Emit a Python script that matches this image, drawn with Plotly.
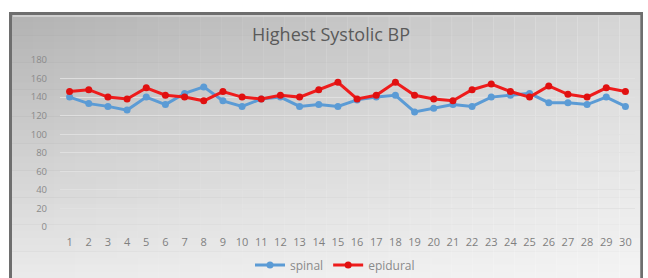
import plotly.graph_objects as go

patients = list(range(1, 31))
spinal = [140, 133, 130, 126, 140, 132, 144, 151, 136, 130,
          138, 140, 130, 132, 130, 137, 140, 142, 124, 128,
          132, 130, 140, 142, 144, 134, 134, 132, 140, 130]
epidural = [146, 148, 140, 138, 150, 142, 140, 136, 146, 140,
            138, 142, 140, 148, 156, 138, 142, 156, 142, 138,
            136, 148, 154, 146, 140, 152, 143, 140, 150, 146]
y_ticks = list(range(0, 181, 20))

W, H = 648, 278
ML, MR, MT, MB = 60, 13, 60, 51
PW, PH = W - ML - MR, H - MT - MB


def px(x):
    return (x - ML) / PW


def py(y):
    return 1 - (y - MT) / PH


fig = go.Figure()
fig.add_trace(go.Scatter(x=patients, y=spinal, name="spinal", mode="lines+markers",
                         line=dict(color="#5b9bd5", width=3),
                         marker=dict(color="#5b9bd5", size=7)))
fig.add_trace(go.Scatter(x=patients, y=epidural, name="epidural", mode="lines+markers",
                         line=dict(color="#ee1c1c", width=3),
                         marker=dict(color="#e01010", size=7)))

shapes = []
# outer frame
shapes.append(dict(type="rect", xref="paper", yref="paper", layer="below",
                   x0=px(9), x1=px(643), y0=py(285), y1=py(12),
                   fillcolor="#6e6e6e", line=dict(width=0)))
# vertical gradient bands
x0, x1, yt, yb = 12, 640, 15, 285
n = 40
top = (180, 180, 180)
bot = (236, 236, 236)
for i in range(n):
    t = i / (n - 1)
    c = tuple(int(top[k] + (bot[k] - top[k]) * t) for k in range(3))
    ya = yt + (yb - yt) * i / n
    yb2 = yt + (yb - yt) * (i + 1) / n
    shapes.append(dict(type="rect", xref="paper", yref="paper", layer="below",
                       x0=px(x0), x1=px(x1), y0=py(yb2 + 0.5), y1=py(ya),
                       fillcolor="rgb(%d,%d,%d)" % c, line=dict(width=0)))
# horizontal whitening toward the right
m = 30
for i in range(m):
    t = i / (m - 1)
    xa = x0 + (x1 - x0) * i / m
    xb = x0 + (x1 - x0) * (i + 1) / m
    shapes.append(dict(type="rect", xref="paper", yref="paper", layer="below",
                       x0=px(xa), x1=px(xb + 0.5), y0=py(yb), y1=py(yt),
                       fillcolor="rgba(255,255,255,%.3f)" % (0.45 * t), line=dict(width=0)))
# top bevel highlight
shapes.append(dict(type="line", xref="paper", yref="paper", layer="below",
                   x0=px(13), x1=px(639), y0=py(16), y1=py(16),
                   line=dict(color="rgba(215,215,215,0.8)", width=2)))

fig.update_layout(
    width=W, height=H,
    margin=dict(l=ML, r=MR, t=MT, b=MB, autoexpand=False),
    paper_bgcolor="white", plot_bgcolor="rgba(0,0,0,0)",
    shapes=shapes,
    title=dict(text="Highest Systolic BP", x=331 / W, xref="container", xanchor="center",
               y=1 - 35 / H, yref="container", yanchor="middle",
               font=dict(family="Open Sans", size=18, color="#5a5a5a")),
    xaxis=dict(range=[0.5, 30.5], tickmode="array", tickvals=patients,
               ticktext=[str(p) for p in patients], showgrid=False, zeroline=False,
               showline=False, ticks="", automargin=False, ticklabelstandoff=7,
               tickfont=dict(family="Open Sans", size=11, color="#7f7f7f")),
    yaxis=dict(range=[0, 180], tickmode="array", tickvals=y_ticks,
               showgrid=True, gridcolor="rgba(225,225,225,0.9)", gridwidth=1,
               zeroline=False, showline=False, ticks="", ticklabelstandoff=12,
               automargin=False,
               tickfont=dict(family="Open Sans", size=9.5, color="#8a8a8a")),
    legend=dict(orientation="h", x=(335 - ML) / PW, xanchor="center", y=py(265), yanchor="middle",
                font=dict(family="Open Sans", size=12, color="#8a8a8a"),
                bgcolor="rgba(0,0,0,0)"),
    showlegend=True,
)

fig.write_html("out.html", config={"displayModeBar": False},
               post_script="document.body.style.margin='0';document.body.style.overflow='hidden';")
